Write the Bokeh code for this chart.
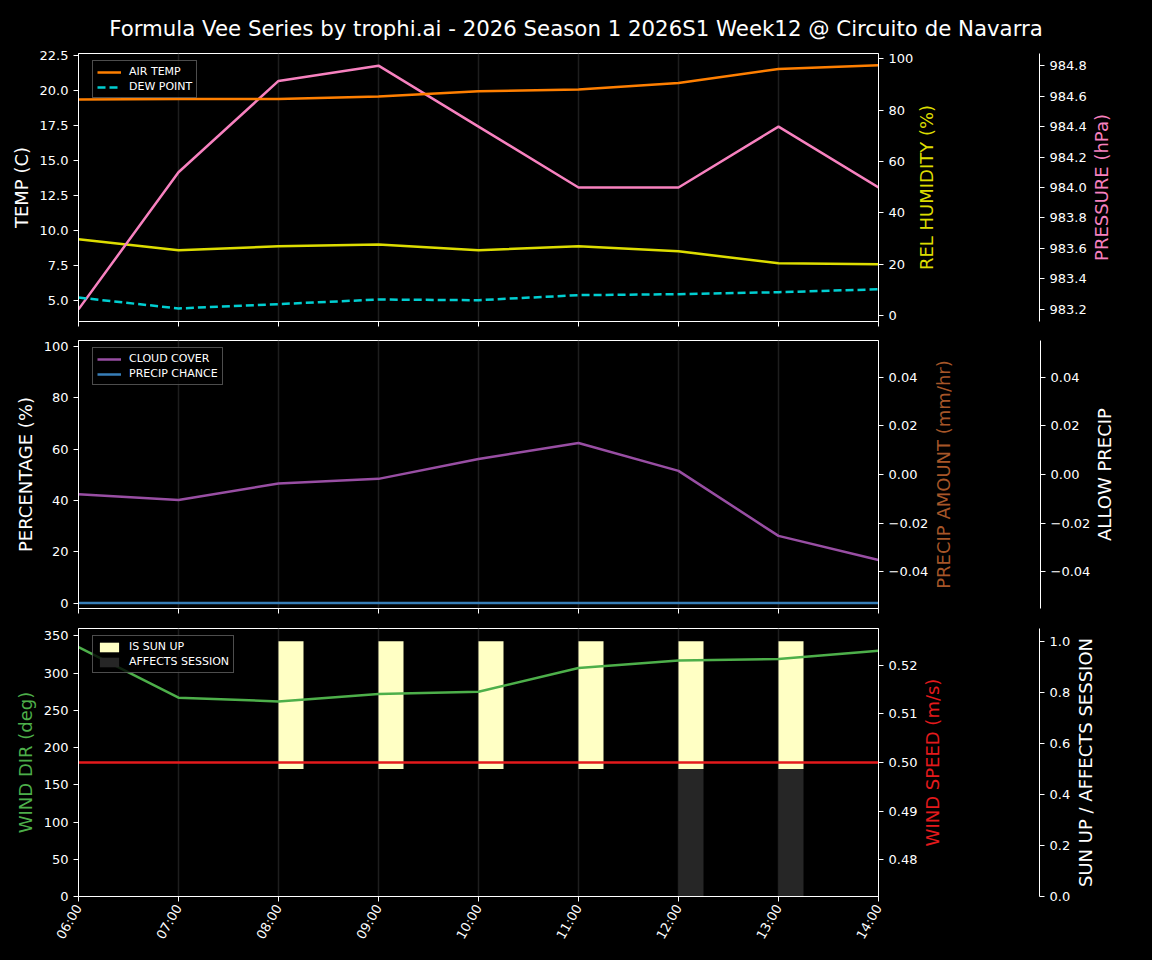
import math
from bokeh.plotting import figure
from bokeh.models import Range1d, LinearAxis, FixedTicker, CustomJSTickFormatter
from bokeh.core.properties import value
from bokeh.layouts import column, row
from bokeh.embed import file_html
from bokeh.resources import INLINE

# ---------------- data ----------------
TITLE = "Formula Vee Series by trophi.ai - 2026 Season 1 2026S1 Week12 @ Circuito de Navarra"
times = ["06:00", "07:00", "08:00", "09:00", "10:00", "11:00", "12:00", "13:00", "14:00"]
air_temp = [19.34, 19.38, 19.38, 19.55, 19.93, 20.05, 20.52, 21.52, 21.78]
dew_point = [5.21, 4.43, 4.74, 5.07, 5.02, 5.38, 5.45, 5.59, 5.80]
rel_humidity = [29.7, 25.4, 27.0, 27.7, 25.4, 27.0, 25.0, 20.4, 20.0]
pressure = [983.2, 984.1, 984.7, 984.8, 984.4, 984.0, 984.0, 984.4, 984.0]
cloud_cover = [42.4, 40.2, 46.6, 48.4, 56.1, 62.4, 51.5, 26.2, 16.8]
precip_chance = [0, 0, 0, 0, 0, 0, 0, 0, 0]
wind_dir = [335, 267, 262, 272, 275, 307, 317, 319, 330]
wind_speed = [0.5, 0.5, 0.5, 0.5, 0.5, 0.5, 0.5, 0.5, 0.5]
is_sun_up = [0, 0, 1, 1, 1, 1, 1, 1, 0]
affects_session = [0, 0, 0, 0, 0, 0, 1, 1, 0]

temp_ticks = [5.0, 7.5, 10.0, 12.5, 15.0, 17.5, 20.0, 22.5]
hum_ticks = [0, 20, 40, 60, 80, 100]
pres_ticks = [983.2, 983.4, 983.6, 983.8, 984.0, 984.2, 984.4, 984.6, 984.8]
pct_ticks = [0, 20, 40, 60, 80, 100]
precip_ticks = [-0.04, -0.02, 0.0, 0.02, 0.04]
wdir_ticks = [0, 50, 100, 150, 200, 250, 300, 350]
wspd_ticks = [0.48, 0.49, 0.50, 0.51, 0.52]
sun_ticks = [0.0, 0.2, 0.4, 0.6, 0.8, 1.0]

hours = [int(t.split(":")[0]) for t in times]

# ---------------- style / layout constants ----------------
FONT = "DejaVu Sans"
PAGE_W = 1152
TOP_PAD = 10                 # room above each frame for the top tick label
TITLE_H = 53 - TOP_PAD
LEFT = 78
FRAME_W, FRAME_H = 800, 268
SECOND_SPINE = 1039          # page x of the outer right spine
C_AIR = "#ff7f00"
C_DEW = "#00ced1"
C_HUM = "#dddd00"
C_PRES = "#f781bf"
C_CLOUD = "#984ea3"
C_PCHANCE = "#377eb8"
C_PAMT = "#a65628"
C_WDIR = "#4daf4a"
C_WSPD = "#e41a1c"
C_SUN = "#ffffc4"
C_AFF = "#262626"
C_GRID = "#1e1e1e"


def fmt(decimals):
    return CustomJSTickFormatter(code="""
        const s = Math.abs(tick).toFixed(%d);
        return (tick < -1e-9) ? "\u2212" + s : s;
    """ % decimals)


def style_axis(ax, ticks, decimals, label=None, color="white"):
    ax.ticker = FixedTicker(ticks=ticks)
    ax.formatter = fmt(decimals)
    if label is not None:
        ax.axis_label = label
        ax.axis_label_text_color = color
        ax.axis_label_text_font = FONT
        ax.axis_label_text_font_size = "18px"
        ax.axis_label_text_font_style = "normal"
        ax.axis_label_standoff = 5
    ax.major_label_text_color = "white"
    ax.major_label_text_font = FONT
    ax.major_label_text_font_size = "13px"
    ax.major_label_standoff = 5
    ax.axis_line_color = "white"
    ax.axis_line_width = 1
    ax.major_tick_line_color = "white"
    ax.major_tick_out = 5
    ax.major_tick_in = 0
    ax.minor_tick_line_color = None
    ax.minor_tick_out = 0


def blank_fig(frame_w, y_range, border_bottom, border_right=0, y_axis="right"):
    p = figure(frame_width=frame_w, frame_height=FRAME_H, title=None,
               x_range=Range1d(0, frame_w), y_range=y_range,
               x_axis_location=None, y_axis_location=y_axis,
               output_backend="svg", toolbar_location=None,
               background_fill_color="black", border_fill_color="black",
               outline_line_color=None,
               min_border_left=0, min_border_right=border_right,
               min_border_top=TOP_PAD, min_border_bottom=border_bottom)
    p.grid.visible = False
    return p


def vertical_text(p, text, color, x_px):
    mid = (p.y_range.start + p.y_range.end) / 2.0
    p.text(x=[x_px], y=[mid], text=[text], angle=math.pi / 2,
           text_align="center", text_baseline="middle", text_color=color,
           text_font=value(FONT), text_font_size="18px")


def make_main(y_range, border_bottom, border_right, show_x_labels):
    p = figure(frame_width=FRAME_W, frame_height=FRAME_H, title=None,
               x_range=Range1d(6, 14), y_range=y_range,
               output_backend="svg", toolbar_location=None,
               background_fill_color="black", border_fill_color="black",
               outline_line_color="white", outline_line_width=1,
               min_border_left=LEFT, min_border_right=border_right,
               min_border_top=TOP_PAD, min_border_bottom=border_bottom)
    p.ygrid.visible = False
    p.xgrid.ticker = FixedTicker(ticks=hours)
    p.xgrid.grid_line_color = C_GRID
    p.xgrid.grid_line_width = 1.5
    xa = p.xaxis[0]
    xa.ticker = FixedTicker(ticks=hours)
    xa.axis_line_color = "white"
    xa.major_tick_line_color = "white"
    xa.major_tick_out = 5
    xa.major_tick_in = 0
    xa.minor_tick_line_color = None
    xa.minor_tick_out = 0
    if show_x_labels:
        xa.major_label_overrides = {float(h): t for h, t in zip(hours, times)}
        xa.major_label_orientation = math.radians(60)
        xa.major_label_text_color = "white"
        xa.major_label_text_font = FONT
        xa.major_label_text_font_size = "13px"
        xa.major_label_standoff = 4
    else:
        xa.formatter = CustomJSTickFormatter(code='return "";')
        xa.major_label_text_font_size = "1px"
        xa.major_label_standoff = 0
    return p


def style_legend(p):
    lg = p.legend[0]
    lg.location = (14, FRAME_H - 11 - 34)
    lg.margin = 0
    lg.background_fill_color = "black"
    lg.background_fill_alpha = 0.8
    lg.border_line_color = "#999999"
    lg.border_line_width = 1
    lg.label_text_color = "white"
    lg.label_text_font = FONT
    lg.label_text_font_size = "11px"
    lg.label_height = 12
    lg.glyph_height = 12
    lg.glyph_width = 24
    lg.padding = 4
    lg.spacing = 2
    lg.label_standoff = 8


def panel_row(main, main_right, first_label, first_color, first_center,
              second_range, second_ticks, second_dec, second_right,
              second_label, second_color, second_center, border_bottom):
    """main figure + figure holding the first right label and the outer axis
    + figure holding the outer axis label."""
    s1_left = LEFT + FRAME_W + main_right
    s1_w = SECOND_SPINE - s1_left
    s1 = blank_fig(s1_w, second_range, border_bottom, border_right=second_right)
    style_axis(s1.yaxis[0], second_ticks, second_dec)
    vertical_text(s1, first_label, first_color, first_center - s1_left)
    s2_left = SECOND_SPINE + second_right
    s2_w = 40
    s2 = blank_fig(s2_w, Range1d(0, 1), border_bottom, y_axis=None)
    vertical_text(s2, second_label, second_color, second_center - s2_left)
    return row(main, s1, s2, spacing=0)


# ---------------- title ----------------
pt = figure(frame_width=PAGE_W, frame_height=TITLE_H, title=None,
            x_range=Range1d(0, PAGE_W), y_range=Range1d(0, TITLE_H),
            x_axis_location=None, y_axis_location=None,
            output_backend="svg", toolbar_location=None,
            background_fill_color="black", border_fill_color="black",
            outline_line_color=None, min_border=0)
pt.grid.visible = False
pt.text(x=[PAGE_W / 2.0 - 0.5], y=[TITLE_H - 28], text=[TITLE], text_align="center",
        text_baseline="middle", text_color="white", text_font=value(FONT),
        text_font_size="21.3px")

# ---------------- panel 1: temperature ----------------
R1 = 38
p1 = make_main(Range1d(3.5, 22.62), 19 - TOP_PAD, R1, False)
p1.extra_y_ranges = {"hum": Range1d(-2.3, 102.0), "pres": Range1d(983.12, 984.88)}
style_axis(p1.yaxis[0], temp_ticks, 1, "TEMP (C)", "white")
ax_hum = LinearAxis(y_range_name="hum")
style_axis(ax_hum, hum_ticks, 0)
p1.add_layout(ax_hum, "right")

p1.line(hours, rel_humidity, y_range_name="hum", line_color=C_HUM, line_width=2.5)
p1.line(hours, pressure, y_range_name="pres", line_color=C_PRES, line_width=2.5)
p1.line(hours, air_temp, line_color=C_AIR, line_width=2.5, legend_label="AIR TEMP")
p1.line(hours, dew_point, line_color=C_DEW, line_width=2.5, line_dash="8 4",
        legend_label="DEW POINT")
style_legend(p1)
row1 = panel_row(p1, R1, "REL HUMIDITY (%)", C_HUM, 926,
                 Range1d(983.12, 984.88), pres_ticks, 1, 49,
                 "PRESSURE (hPa)", C_PRES, 1100, 19 - TOP_PAD)

# ---------------- panel 2: cloud / precip ----------------
R2 = 52
p2 = make_main(Range1d(-2.1, 102.3), 20 - TOP_PAD, R2, False)
p2.extra_y_ranges = {"pamt": Range1d(-0.055, 0.055)}
style_axis(p2.yaxis[0], pct_ticks, 0, "PERCENTAGE (%)", "white")
ax_pamt = LinearAxis(y_range_name="pamt")
style_axis(ax_pamt, precip_ticks, 2)
p2.add_layout(ax_pamt, "right")

p2.line(hours, cloud_cover, line_color=C_CLOUD, line_width=2.5, legend_label="CLOUD COVER")
p2.line(hours, precip_chance, line_color=C_PCHANCE, line_width=2.5, legend_label="PRECIP CHANCE")
style_legend(p2)
row2 = panel_row(p2, R2, "PRECIP AMOUNT (mm/hr)", C_PAMT, 942,
                 Range1d(-0.055, 0.055), precip_ticks, 2, 51,
                 "ALLOW PRECIP", "white", 1101, 20 - TOP_PAD)

# ---------------- panel 3: wind / sun ----------------
R3 = 42
p3 = make_main(Range1d(0, 360), 10, R3, True)
p3.extra_y_ranges = {"wspd": Range1d(0.4725, 0.5275), "sun": Range1d(0, 1.05)}
style_axis(p3.yaxis[0], wdir_ticks, 0, "WIND DIR (deg)", C_WDIR)
ax_wspd = LinearAxis(y_range_name="wspd")
style_axis(ax_wspd, wspd_ticks, 2)
p3.add_layout(ax_wspd, "right")

bar_w = 0.25
sun_x = [h for h, s in zip(hours, is_sun_up) if s]
sun_v = [s for s in is_sun_up if s]
aff_x = [h for h, a in zip(hours, affects_session) if a]
aff_v = [a for a in affects_session if a]
p3.quad(left=sun_x, right=[h + bar_w for h in sun_x],
        bottom=[0.5] * len(sun_x), top=[0.5 + 0.5 * v for v in sun_v],
        y_range_name="sun", fill_color=C_SUN, line_color=None, legend_label="IS SUN UP")
p3.quad(left=aff_x, right=[h + bar_w for h in aff_x],
        bottom=[0.0] * len(aff_x), top=[0.5 * v for v in aff_v],
        y_range_name="sun", fill_color=C_AFF, line_color=None, legend_label="AFFECTS SESSION")
p3.line(hours, wind_dir, line_color=C_WDIR, line_width=2.5)
p3.line(hours, wind_speed, y_range_name="wspd", line_color=C_WSPD, line_width=2.5)
style_legend(p3)
row3 = panel_row(p3, R3, "WIND SPEED (m/s)", C_WSPD, 932,
                 Range1d(0, 1.05), sun_ticks, 1, 32,
                 "SUN UP / AFFECTS SESSION", "white", 1083, 12)

layout = column(pt, row1, row2, row3, spacing=0)
html = file_html(layout, INLINE, title="Formula Vee weather")
html = html.replace("</head>",
                    "<style>html, body { background-color: #000000 !important; }</style></head>", 1)
open("out.html", "w").write(html)
